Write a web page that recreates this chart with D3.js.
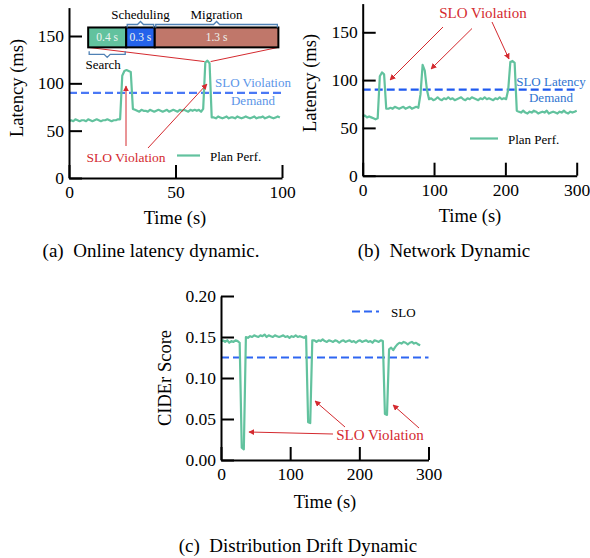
<!DOCTYPE html>
<html>
<head>
<meta charset="utf-8">
<script src="https://cdn.jsdelivr.net/npm/d3@7"></script>
<style>
  body { margin: 0; background: #fff; }
  text { font-family: "Liberation Serif", "Times New Roman", serif; }
</style>
</head>
<body>
<div id="chart"></div>
<script>
// (a) online latency, one sample per second
const latencyA = [
  60, 61, 60, 62, 61, 60, 61, 61, 60, 62, 61, 60, 61, 62, 61, 60, 61, 61, 62, 61, 60, 61, 61, 62,
  62, 108, 113, 114, 113, 112, 73,
  72, 71, 70, 72, 71, 71, 70, 72, 71, 70, 71, 72, 71, 70, 71, 72, 70, 71, 72, 71, 70, 72, 71, 72, 71, 70, 72, 71, 72, 71, 72, 70,
  73, 122, 124, 121, 64,
  64, 63, 65, 64, 63, 64, 65, 63, 64, 64, 63, 65, 64, 63, 64, 65, 64, 63, 64, 65, 63, 64, 64, 65, 63, 64, 65, 64, 63, 64, 65, 64
];
const stepA = 1;

// (b) network dynamic, one sample every 3 s
const latencyB = [
  62, 63, 61, 62, 61, 60, 59, 60,
  104, 108, 106, 70,
  70, 71, 70, 72, 71, 70, 71, 72, 70, 71, 72, 70, 71, 72, 71,
  85, 116, 110, 90,
  80, 81, 79, 80, 82, 80, 79, 81, 80, 82, 80, 81, 79, 80, 81, 82, 80, 79, 81, 80, 82, 81, 80, 79, 81, 80, 82, 80, 81, 80, 79, 81, 80, 82, 80, 81, 80,
  90, 119, 120, 118, 68,
  67, 66, 68, 66, 65, 67, 66, 68, 67, 65, 66, 67, 66, 68, 65, 66, 67, 66, 65, 67, 66, 68, 66, 65, 67, 66, 67, 68
];
const stepB = 3;

// (c) distribution drift, one sample every 3 s
const ciderC = [
  0.145, 0.146, 0.144, 0.146, 0.143, 0.145, 0.144, 0.146, 0.145,
  0.143, 0.015, 0.013, 0.150,
  0.149, 0.151, 0.150, 0.152, 0.151, 0.150, 0.152, 0.151, 0.153, 0.150, 0.152, 0.151, 0.150, 0.152, 0.151,
  0.150, 0.151, 0.152, 0.150, 0.151, 0.149, 0.151, 0.150, 0.152, 0.150, 0.151, 0.150, 0.149, 0.151,
  0.046, 0.045, 0.146,
  0.146, 0.144, 0.146, 0.145, 0.147, 0.145, 0.144, 0.146, 0.145, 0.144, 0.146, 0.145, 0.143, 0.145, 0.146,
  0.144, 0.145, 0.146, 0.144, 0.145, 0.143, 0.145, 0.146, 0.144, 0.145, 0.146, 0.144, 0.145, 0.143, 0.146,
  0.145, 0.144, 0.146, 0.145,
  0.056, 0.055, 0.135,
  0.137, 0.134, 0.138, 0.141, 0.143, 0.142, 0.144, 0.143, 0.141, 0.143, 0.144, 0.142, 0.143, 0.141, 0.140
];
const stepC = 3;

const sloLatency = 90;
const sloCider = 0.125;

// migration breakdown shown in the inset bar of (a)
const phaseNames = ["Search", "Scheduling", "Migration"];
const phaseDur = [0.4, 0.3, 1.3];
const phaseLabels = ["0.4 s", "0.3 s", "1.3 s"];

const xTicksA = [0, 50, 100];
const yTicksA = [0, 50, 100, 150];
const xTicksB = [0, 100, 200, 300];
const yTicksB = [0, 50, 100, 150];
const xTicksC = [0, 100, 200, 300];
const yTicksC = [0, 0.05, 0.1, 0.15, 0.2];

const lineColor = "#62c29e";
const red = "#d42a2f";
const phaseColors = ["#62c29e", "#2563eb", "#c0776a"];

const svg = d3.select("#chart").append("svg")
  .attr("width", 590)
  .attr("height", 558);

svg.append("defs").append("marker")
  .attr("id", "arrow")
  .attr("viewBox", "0 0 10 10")
  .attr("refX", 9)
  .attr("refY", 5)
  .attr("markerWidth", 6)
  .attr("markerHeight", 6)
  .attr("markerUnits", "userSpaceOnUse")
  .attr("orient", "auto")
  .append("path")
  .attr("d", "M0,0 L10,5 L0,10 z")
  .attr("fill", red);

function drawAxes(x, y, xTicks, yTicks, yFmt) {
  const gx = svg.append("g")
    .attr("transform", `translate(0,${y.range()[0]})`)
    .call(d3.axisBottom(x).tickValues(xTicks).tickSize(-13).tickSizeOuter(0).tickPadding(8));
  const gy = svg.append("g")
    .attr("transform", `translate(${x.range()[0]},0)`)
    .call(d3.axisLeft(y).tickValues(yTicks).tickFormat(yFmt).tickSize(-13).tickSizeOuter(0).tickPadding(5));
  [gx, gy].forEach(g => {
    g.select(".domain").attr("stroke", "#000").attr("stroke-width", 2);
    g.selectAll(".tick line").attr("stroke", "#000").attr("stroke-width", 2);
    g.selectAll(".tick text").attr("fill", "#000").style("font-size", "17.5px")
      .style("font-family", "'Liberation Serif', serif");
  });
}

function drawSeries(x, y, values, step) {
  const line = d3.line()
    .x((d, i) => x(i * step))
    .y(d => y(d));
  svg.append("path")
    .datum(values)
    .attr("fill", "none")
    .attr("stroke", lineColor)
    .attr("stroke-width", 2.2)
    .attr("stroke-linejoin", "round")
    .attr("d", line);
}

function drawSlo(x, y, value, color) {
  svg.append("line")
    .attr("x1", x.range()[0])
    .attr("x2", x.range()[1])
    .attr("y1", y(value))
    .attr("y2", y(value))
    .attr("stroke", color)
    .attr("stroke-width", 2.2)
    .attr("stroke-dasharray", "8,4");
}

function label(x, y, txt, size, color, anchor, rotate) {
  const t = svg.append("text")
    .attr("x", x)
    .attr("y", y)
    .attr("text-anchor", anchor || "middle")
    .attr("dominant-baseline", "central")
    .attr("fill", color || "#000")
    .style("font-size", size + "px")
    .style("white-space", "pre")
    .text(txt);
  if (rotate) t.attr("transform", `rotate(-90,${x},${y})`);
  return t;
}

function arrow(x1, y1, x2, y2) {
  svg.append("line")
    .attr("x1", x1).attr("y1", y1)
    .attr("x2", x2).attr("y2", y2)
    .attr("stroke", red)
    .attr("stroke-width", 1)
    .attr("marker-end", "url(#arrow)");
}

function legendLine(x1, x2, y, txt) {
  svg.append("line")
    .attr("x1", x1).attr("x2", x2)
    .attr("y1", y).attr("y2", y)
    .attr("stroke", lineColor)
    .attr("stroke-width", 2.2);
  label(x2 + 10, y + 1, txt, 13, "#000", "start");
}

// ---------- (a) ----------
const xA = d3.scaleLinear().domain([0, 100]).range([69, 282]);
const yA = d3.scaleLinear().domain([0, 180]).range([178, 7.6]);

drawSlo(xA, yA, sloLatency, "#4a78f5");
drawSeries(xA, yA, latencyA, stepA);
drawAxes(xA, yA, xTicksA, yTicksA, d3.format("d"));

label(17, 88, "Latency (ms)", 18.5, "#000", "middle", true);
label(175, 218, "Time (s)", 18.5);
label(151, 250, "(a)  Online latency dynamic.", 19);

label(253, 82, "SLO Violation", 13, "#5b95e8");
label(253, 100, "Demand", 13, "#5b95e8");

label(126, 157, "SLO Violation", 13.5, red);
arrow(126, 146, 126, 86);
arrow(148, 148, 207, 84);

legendLine(177, 200, 155.5, "Plan Perf.");

// inset bar with the migration breakdown
const totalDur = d3.sum(phaseDur);
const cum = phaseDur.map((d, i) => d3.sum(phaseDur.slice(0, i)));
const xPhase = d3.scaleLinear().domain([0, totalDur]).range([xA(9), xA(98.3)]);
const barTop = yA(159);
const barBot = yA(138);

// zoom lines towards the second spike
svg.append("line")
  .attr("x1", xPhase(0)).attr("y1", barBot)
  .attr("x2", xA(63.6)).attr("y2", yA(123))
  .attr("stroke", red).attr("stroke-width", 1);
svg.append("line")
  .attr("x1", xPhase(totalDur)).attr("y1", barBot)
  .attr("x2", xA(66.5)).attr("y2", yA(123))
  .attr("stroke", red).attr("stroke-width", 1);

svg.append("g").selectAll("rect")
  .data(phaseDur)
  .join("rect")
  .attr("x", (d, i) => xPhase(cum[i]))
  .attr("y", barTop)
  .attr("width", d => xPhase(d) - xPhase(0))
  .attr("height", barBot - barTop)
  .attr("fill", (d, i) => phaseColors[i])
  .attr("stroke", "#000")
  .attr("stroke-width", 2);

phaseLabels.forEach((t, i) => {
  label((xPhase(cum[i]) + xPhase(cum[i] + phaseDur[i])) / 2, (barTop + barBot) / 2, t, 11.5, "#eef4f0");
});

const bracketColor = "#4f81b5";
phaseNames.forEach((name, i) => {
  const x0 = xPhase(cum[i]) + 1;
  const x1 = xPhase(cum[i] + phaseDur[i]) - 1;
  const xm = (x0 + x1) / 2;
  const below = i === 0;
  const by = below ? barBot + 7 : barTop - 3;
  const s = below ? -1 : 1;
  svg.append("path")
    .attr("d", `M${x0},${by + 3 * s} V${by} H${xm - 3} L${xm},${by - 3 * s} L${xm + 3},${by} H${x1} V${by + 3 * s}`)
    .attr("fill", "none")
    .attr("stroke", bracketColor)
    .attr("stroke-width", 1.3);
  label(below ? xm - 4 : xm, below ? by + 10 : by - 10, name, 13);
});

// ---------- (b) ----------
const xB = d3.scaleLinear().domain([0, 300]).range([362.7, 576.7]);
const yB = d3.scaleLinear().domain([0, 180]).range([175.7, 3.6]);

drawSlo(xB, yB, sloLatency, "#1f5af0");
drawSeries(xB, yB, latencyB, stepB);
drawAxes(xB, yB, xTicksB, yTicksB, d3.format("d"));

label(310, 83, "Latency (ms)", 18.5, "#000", "middle", true);
label(470, 216, "Time (s)", 18.5);
label(444, 250, "(b)  Network Dynamic", 19);

label(551, 81.5, "SLO Latency", 13, "#2f74d0");
label(551, 97.5, "Demand", 13, "#2f74d0");

label(483, 12.5, "SLO Violation", 15, red);
arrow(443, 27, 390, 80);
arrow(472, 28.5, 431, 69);
arrow(492, 22, 509, 59);

legendLine(470, 498, 138.5, "Plan Perf.");

// ---------- (c) ----------
const xC = d3.scaleLinear().domain([0, 300]).range([221, 428.5]);
const yC = d3.scaleLinear().domain([0, 0.2]).range([460, 296]);

drawSlo(xC, yC, sloCider, "#2e66f2");
drawSeries(xC, yC, ciderC, stepC);
drawAxes(xC, yC, xTicksC, yTicksC, d3.format(".2f"));

label(165, 378, "CIDEr Score", 18.5, "#000", "middle", true);
label(325, 501.5, "Time (s)", 18.5);
label(298, 545, "(c)  Distribution Drift Dynamic", 19);

svg.append("line")
  .attr("x1", 352).attr("x2", 379)
  .attr("y1", 311.5).attr("y2", 311.5)
  .attr("stroke", "#2e66f2")
  .attr("stroke-width", 2.2)
  .attr("stroke-dasharray", "8,4");
label(391, 312, "SLO", 13, "#000", "start");

label(380, 435, "SLO Violation", 15, red);
arrow(333, 434, 249, 432);
arrow(345, 427, 315, 401);
arrow(419, 428, 393, 405);
</script>
</body>
</html>
